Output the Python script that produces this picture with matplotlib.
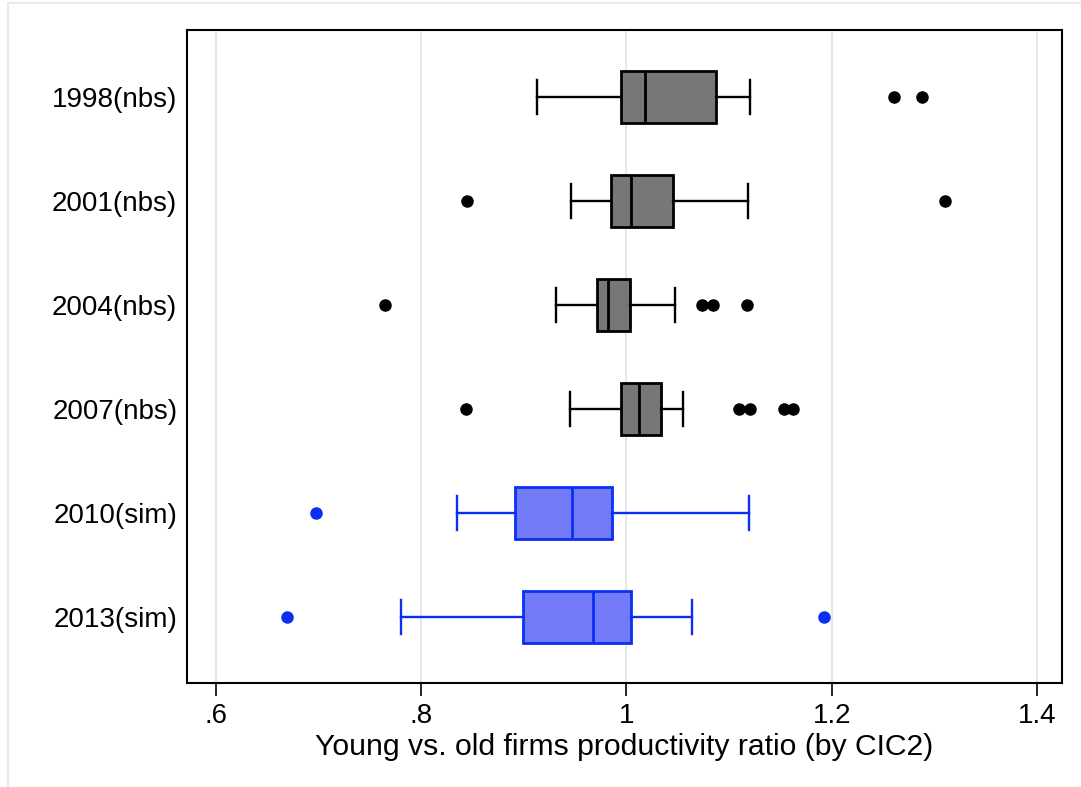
import matplotlib
matplotlib.use("Agg")
import matplotlib.pyplot as plt
from matplotlib.lines import Line2D

plt.rcParams['font.family'] = ['Liberation Sans', 'DejaVu Sans']

# categories, top to bottom
labels = ['1998(nbs)', '2001(nbs)', '2004(nbs)', '2007(nbs)', '2010(sim)', '2013(sim)']

# box stats
whislo = [0.913, 0.9455, 0.9316, 0.9453, 0.8345, 0.7806]
q1 = [0.995, 0.9845, 0.9713, 0.9947, 0.8917, 0.8992]
med = [1.0176, 1.0047, 0.982, 1.0125, 0.9465, 0.967]
q3 = [1.087, 1.045, 1.0034, 1.0336, 0.9856, 1.0048]
whishi = [1.1205, 1.118, 1.0476, 1.0547, 1.1198, 1.0638]
fliers = [
    [1.261, 1.288],
    [0.8446, 1.310],
    [0.7644, 1.0736, 1.084, 1.1177],
    [0.8436, 1.110, 1.120, 1.1535, 1.162],
    [0.697],
    [0.669, 1.1923],
]
is_sim = [False, False, False, False, True, True]


def graf():
    fig = plt.figure(figsize=(10.81, 7.87), dpi=100)
    ax = fig.add_axes([0.173, 0.132, 0.8094, 0.8299])

    # faint screenshot border (left and top)
    fig.lines.append(Line2D([0.007, 0.007], [0.0, 0.996], transform=fig.transFigure,
                            color='#e6eced', linewidth=1.5))
    fig.lines.append(Line2D([0.007, 1.0], [0.996, 0.996], transform=fig.transFigure,
                            color='#e6eced', linewidth=1.5))

    grey_fill, grey_edge = '#777777', 'black'
    blue_fill, blue_edge = '#737af5', '#0a2ff2'

    for i in range(len(labels)):
        st = dict(whislo=whislo[i], q1=q1[i], med=med[i], q3=q3[i],
                  whishi=whishi[i], fliers=fliers[i], label=labels[i])
        fc, ec = (blue_fill, blue_edge) if is_sim[i] else (grey_fill, grey_edge)
        ax.bxp([st], positions=[i + 1], widths=0.5, capwidths=0.33, vert=False,
               patch_artist=True, manage_ticks=False,
               boxprops=dict(facecolor=fc, edgecolor=ec, linewidth=2.0),
               medianprops=dict(color=ec, linewidth=2.0),
               whiskerprops=dict(color=ec, linewidth=1.7),
               capprops=dict(color=ec, linewidth=1.7),
               flierprops=dict(marker='o', markerfacecolor=ec, markeredgecolor=ec,
                               markersize=8, linestyle='none'))

    ax.set_ylim(6.635, 0.356)
    ax.set_xlim(0.5717, 1.4244)
    ax.set_yticks(range(1, len(labels) + 1))
    ax.set_yticklabels(labels, fontsize=20)
    ax.tick_params(axis='y', length=0, pad=7)

    ax.set_xticks([0.6, 0.8, 1.0, 1.2, 1.4])
    ax.set_xticklabels(['.6', '.8', '1', '1.2', '1.4'], fontsize=20)
    ax.tick_params(axis='x', length=9, width=1.2, pad=5)

    ax.grid(axis='x', color='#e2e9ed', linewidth=1.5)
    ax.set_axisbelow(True)
    for s in ax.spines.values():
        s.set_linewidth(1.5)

    ax.set_xlabel('Young vs. old firms productivity ratio (by CIC2)', fontsize=21.7, labelpad=3)

    fig.savefig('out.png', dpi=100)


if __name__ == '__main__':
    graf()
